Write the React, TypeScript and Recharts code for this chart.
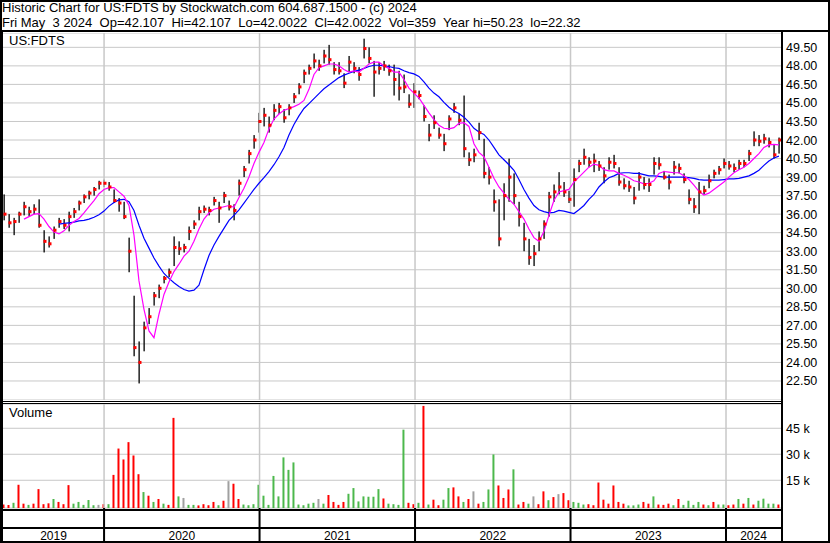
import React from "react";
import {
  ComposedChart,
  Bar,
  Line,
  Scatter,
  XAxis,
  YAxis,
  CartesianGrid,
  ReferenceLine,
  Cell,
} from "recharts";

const FONT = "'Liberation Sans', Arial, sans-serif";
const GRID = "#c8c8c8";

// one bar every ~8 trading days, May 2019 -> May 2024 (decimal years)
const FIRST_DATE = 2019.3564;
const DATE_STEP = 0.032154;
const X_DOMAIN = [2019.35, 2024.3537];

const highs = [
  37.6, 36.0, 35.7, 36.2, 37.0, 36.6, 36.8, 37.2, 34.7, 34.2,
  35.0, 35.7, 35.6, 36.2, 36.5, 37.1, 37.6, 37.9, 38.2, 38.7,
  38.8, 38.6, 38.0, 37.3, 37.0, 34.1, 29.4, 25.7, 27.3, 28.4,
  29.7, 30.3, 31.0, 31.6, 34.2, 33.8, 33.6, 35.0, 35.5, 36.6,
  36.7, 36.6, 37.4, 37.0, 37.8, 37.1, 36.8, 38.8, 39.9, 41.2,
  42.4, 44.2, 44.6, 43.9, 44.9, 45.0, 44.5, 44.9, 45.8, 46.6,
  47.7, 48.1, 49.0, 48.5, 49.3, 49.7, 48.3, 48.3, 47.4, 48.8,
  48.3, 47.9, 50.2, 49.5, 48.4, 48.3, 48.4, 48.1, 48.1, 47.6,
  47.3, 45.7, 46.6, 46.0, 44.8, 43.3, 44.0, 43.0, 42.5, 44.0,
  45.0, 44.1, 45.6, 41.0, 41.3, 43.4, 42.1, 39.8, 38.0, 37.2,
  38.5, 40.5, 39.3, 37.0, 35.3, 34.0, 33.5, 34.6, 35.5, 37.8,
  38.4, 39.4, 38.6, 37.9, 39.7, 40.4, 41.3, 40.6, 40.9, 40.3,
  39.8, 40.6, 40.8, 39.8, 38.9, 38.7, 38.2, 39.4, 39.0, 38.9,
  40.6, 40.6, 39.5, 39.2, 40.3, 40.1, 39.3, 38.0, 37.3, 38.6,
  38.3, 39.2, 39.6, 39.9, 40.5, 40.3, 40.1, 40.4, 40.4, 41.2,
  42.7, 42.4, 42.5, 42.2, 41.6, 42.2,
];

const lows = [
  35.5, 34.9, 34.3, 35.3, 35.9, 35.8, 36.0, 34.9, 32.9, 33.3,
  34.0, 34.9, 34.8, 34.6, 35.7, 36.3, 36.9, 37.2, 37.5, 38.0,
  38.2, 37.9, 36.9, 36.2, 35.6, 31.3, 24.5, 22.3, 24.9, 27.1,
  28.6, 29.2, 30.4, 30.9, 31.8, 32.7, 32.9, 33.9, 34.8, 35.5,
  36.1, 35.9, 36.7, 35.3, 36.9, 36.3, 35.5, 37.5, 39.0, 40.1,
  41.3, 42.6, 43.1, 42.6, 43.6, 44.1, 43.4, 44.0, 45.0, 45.7,
  46.6, 47.3, 47.8, 47.6, 48.2, 48.1, 47.3, 47.3, 46.2, 47.5,
  47.4, 46.8, 48.6, 48.2, 45.5, 47.3, 47.6, 47.2, 45.6, 45.2,
  45.8, 44.6, 44.6, 45.3, 43.5, 41.9, 42.9, 42.1, 41.1, 42.8,
  44.2, 43.2, 40.6, 39.9, 40.2, 42.0, 38.9, 38.4, 36.2, 33.4,
  35.5, 37.0, 36.8, 35.0, 33.0, 31.9, 31.8, 33.0, 34.0, 35.8,
  37.0, 37.6, 37.4, 36.9, 36.6, 39.4, 40.0, 39.8, 39.4, 39.5,
  38.5, 39.6, 39.7, 38.3, 38.0, 37.8, 36.8, 37.9, 38.0, 37.8,
  39.2, 39.6, 38.8, 38.0, 39.2, 39.3, 38.5, 36.8, 36.1, 36.0,
  37.6, 38.1, 38.9, 39.2, 39.7, 39.6, 39.4, 39.6, 39.8, 40.3,
  41.5, 41.5, 41.7, 41.4, 40.5, 40.9,
];

const closes = [
  36.0, 35.3, 35.4, 36.0, 36.6, 36.2, 36.4, 35.1, 33.8, 33.6,
  34.7, 35.4, 35.1, 35.8, 36.2, 36.9, 37.4, 37.7, 38.0, 38.5,
  38.5, 38.2, 37.1, 36.9, 35.8, 33.0, 25.2, 24.0, 26.8, 27.7,
  29.4, 30.0, 30.8, 31.3, 33.3, 33.2, 33.3, 34.6, 35.2, 36.2,
  36.4, 36.3, 37.1, 36.5, 37.5, 36.6, 36.3, 38.5, 39.6, 40.9,
  42.0, 43.5, 44.0, 43.2, 44.4, 44.7, 43.8, 44.6, 45.5, 46.3,
  47.4, 47.8, 48.4, 48.0, 48.8, 48.5, 47.7, 47.6, 46.6, 48.3,
  47.8, 47.3, 49.4, 48.6, 47.5, 47.8, 48.0, 47.6, 46.9, 46.2,
  46.3, 44.9, 45.9, 45.6, 43.9, 42.4, 43.4, 42.4, 41.7, 43.7,
  44.6, 43.6, 41.3, 40.4, 40.8, 42.6, 39.3, 39.0, 37.0, 34.0,
  37.5, 39.0, 37.5, 35.8, 34.0, 32.5, 32.8, 34.0, 35.2, 37.4,
  37.8, 38.2, 37.8, 37.2, 38.8, 40.1, 40.6, 40.2, 40.3, 39.9,
  39.1, 40.2, 40.1, 38.6, 38.3, 38.2, 37.3, 39.0, 38.4, 38.4,
  40.1, 40.0, 39.0, 38.6, 39.8, 39.7, 38.8, 37.2, 36.6, 37.8,
  37.9, 38.7, 39.3, 39.6, 40.1, 39.9, 39.7, 40.1, 40.1, 40.9,
  42.0, 41.9, 42.1, 41.8, 40.8, 42.0,
];

// short moving average (magenta)
const fastMa = [
  null, null, null, null, 35.6, 35.8, 36.0, 36.05, 35.6, 35.0,
  34.55, 34.4, 34.65, 35.1, 35.4, 35.65, 36.1, 36.6, 37.1, 37.65,
  38.0, 38.15, 38.15, 37.8, 37.45, 36.7, 34.3, 30.6, 28.3, 26.55,
  26.0, 27.9, 29.5, 30.5, 31.35, 31.95, 32.6, 33.0, 33.8, 34.8,
  35.6, 36.1, 36.4, 36.5, 36.6, 36.7, 36.55, 37.35, 38.1, 39.0,
  40.1, 41.0, 41.8, 42.9, 43.7, 44.1, 44.4, 44.55, 44.7, 44.9,
  45.2, 46.1, 47.3, 47.85, 48.0, 48.15, 48.15, 48.0, 47.7, 47.5,
  47.6, 47.5, 47.8, 48.15, 48.3, 48.3, 48.0, 47.8, 47.5, 47.5,
  46.9, 46.2, 45.8, 45.4, 44.8, 44.2, 43.65, 43.2, 42.95, 42.9,
  43.0, 43.35, 43.4, 43.1, 41.7, 41.0, 40.65, 39.8, 38.9, 38.2,
  37.7, 37.2, 36.8, 36.2, 35.6, 34.8, 34.1, 33.8, 34.6, 35.9,
  37.1, 37.8, 37.9, 38.0, 38.6, 39.0, 39.4, 39.8, 40.05, 39.95,
  39.6, 39.5, 39.5, 39.3, 39.15, 38.95, 38.7, 38.6, 38.45, 38.5,
  38.7, 39.3, 39.45, 39.4, 39.35, 39.35, 39.1, 38.8, 38.35, 37.85,
  37.55, 37.7, 38.0, 38.3, 38.6, 39.0, 39.35, 39.6, 39.8, 40.1,
  40.5, 40.9, 41.4, 41.6, 41.65, 41.6,
];

// long moving average (blue)
const slowMa = [
  null, null, null, null, null, null, null, null, null, null,
  null, 35.2, 35.25, 35.3, 35.35, 35.45, 35.5, 35.6, 35.75, 35.95,
  36.25, 36.65, 36.95, 37.15, 37.2, 37.0, 36.3, 35.1, 34.05, 33.25,
  32.45, 31.8, 31.2, 30.8, 30.45, 30.15, 29.9, 29.78, 29.85, 30.25,
  31.5, 32.65, 33.5, 34.2, 34.85, 35.5, 35.9, 36.35, 36.9, 37.45,
  38.0, 38.5, 38.95, 39.45, 40.0, 40.65, 41.4, 42.4, 43.25, 43.95,
  44.55, 44.95, 45.35, 45.75, 46.15, 46.45, 46.75, 47.05, 47.25, 47.4,
  47.55, 47.65, 47.8, 47.95, 48.05, 48.05, 48.0, 47.95, 47.85, 47.8,
  47.6, 47.45, 47.35, 47.15, 46.7, 46.2, 45.8, 45.5, 45.05, 44.65,
  44.35, 44.15, 43.85, 43.45, 42.95, 42.65, 42.45, 42.0, 41.4, 40.8,
  40.4, 40.0, 39.55, 38.8, 38.0, 37.3, 36.7, 36.35, 36.2, 36.1,
  36.15, 36.3, 36.25, 36.15, 36.05, 36.35, 36.7, 37.2, 37.6, 38.2,
  38.6, 38.95, 39.1, 39.3, 39.35, 39.35, 39.3, 39.3, 39.2, 39.1,
  39.1, 39.05, 39.0, 39.0, 39.0, 39.0, 39.0, 38.95, 38.9, 38.8,
  38.75, 38.75, 38.75, 38.75, 38.8, 38.85, 38.85, 38.9, 39.0, 39.1,
  39.3, 39.55, 39.95, 40.3, 40.55, 40.7,
];

// volume in thousands of shares, u = up, d = down, n = unchanged
const volumesK = [
  1.0, 0.8, 2.0, 12.4, 1.5, 0.8, 1.5, 9.9, 1.2, 1.7,
  4.2, 2.5, 1.2, 12.2, 1.5, 2.5, 0.8, 3.6, 0.6, 0.8,
  1.2, 1.2, 18.1, 33.3, 27.0, 37.0, 29.3, 18.5, 8.2, 6.1,
  2.5, 4.2, 1.5, 0.8, 51.0, 5.7, 4.8, 0.8, 0.8, 0.5,
  1.2, 0.6, 2.5, 0.6, 3.2, 14.5, 13.0, 4.2, 1.0, 0.6,
  1.2, 12.4, 6.1, 0.8, 17.5, 5.7, 28.2, 21.0, 25.3, 1.0,
  0.6, 1.5, 2.0, 4.2, 1.5, 6.5, 2.5, 0.8, 2.5, 7.2,
  10.5, 2.8, 5.7, 5.5, 5.5, 9.9, 4.5, 1.5, 1.2, 0.8,
  44.2, 2.0, 1.2, 2.0, 57.9, 1.0, 3.8, 0.6, 3.8, 10.5,
  10.9, 5.7, 2.5, 4.2, 8.6, 1.5, 2.5, 9.7, 29.9, 12.0,
  4.8, 9.7, 21.3, 1.0, 2.5, 1.5, 5.7, 1.2, 8.6, 3.5,
  5.3, 7.0, 7.6, 3.5, 2.5, 2.0, 1.0, 1.2, 0.6, 13.7,
  3.8, 1.5, 12.0, 2.5, 1.5, 0.5, 0.5, 1.0, 2.5, 1.5,
  5.7, 1.0, 0.8, 1.5, 0.6, 4.2, 0.8, 3.2, 0.8, 2.5,
  1.0, 0.6, 2.5, 1.0, 1.0, 0.6, 1.0, 4.2, 1.5, 4.8,
  1.0, 3.2, 4.4, 1.5, 1.5, 1.0,
];

const volumeSides =
  "dduddudddd" + "uddduuuuun" + "duddddddud" + "ududdunuud" + "dddudndduu" +
  "uuuuuuuuuu" + "uuunuddddu" + "uuuuuuduuu" + "uddududduu" + "ddudnduuud" +
  "dduddunddu" + "dndduuuddd" + "ddddduuudd" + "uddduduuuu" + "duduuddudu" +
  "duuuud";

const priceTicks = [22.5, 24, 25.5, 27, 28.5, 30, 31.5, 33, 34.5, 36, 37.5, 39, 40.5, 42, 43.5, 45, 46.5, 48, 49.5];
const volumeTicks = [15, 30, 45];
const yearStarts = [2020, 2021, 2022, 2023, 2024];
const yearLabelDates = [2019.675, 2020.5, 2021.5, 2022.5, 2023.5, 2024.177];
const yearLabels = ["2019", "2020", "2021", "2022", "2023", "2024"];

const sideColor: Record<string, string> = { u: "#4cb84c", d: "#ff0000", n: "#a0a0a0" };

const VOLUME_FLOOR = -1;

const data = closes.map((close, i) => ({
  t: FIRST_DATE + i * DATE_STEP,
  range: [lows[i], highs[i]],
  close,
  fast: fastMa[i],
  slow: slowMa[i],
}));

const volumeData = volumesK.map((v, i) => ({
  t: FIRST_DATE + i * DATE_STEP,
  vol: [VOLUME_FLOOR, v],
  side: volumeSides[i],
}));

const HighLow = (props: any) => {
  const { x, y, width, height } = props;
  if (x == null || y == null) return null;
  return <rect x={x + width / 2 - 0.5} y={y} width={1.3} height={Math.max(Math.abs(height), 1)} fill="#000" />;
};

const CloseMark = (props: any) => {
  const { cx, cy } = props;
  if (cx == null || cy == null) return null;
  return <rect x={cx - 0.5} y={cy - 1.5} width={3} height={3} fill="#ff0000" />;
};

const PriceTick = ({ x, y, payload }: any) => (
  <text x={x} y={y} dy={4.5} fontSize={12.5} fontFamily={FONT} fill="#000">
    {Number(payload.value).toFixed(2)}
  </text>
);

const VolumeTick = ({ x, y, payload }: any) => (
  <text x={x} y={y} dy={4.5} fontSize={12.5} fontFamily={FONT} fill="#000">
    {payload.value} k
  </text>
);

const YearTick = ({ x, y, payload }: any) => {
  const i = yearLabelDates.indexOf(payload.value);
  if (i < 0) {
    return <rect x={x - 1} y={y} width={2} height={36} fill="#000" />;
  }
  return (
    <text x={x} y={y + 32} textAnchor="middle" fontSize={12} fontFamily={FONT} fill="#000">
      {yearLabels[i]}
    </text>
  );
};

const Rule = ({ l, t, w, h }: { l: number; t: number; w: number; h: number }) => (
  <div style={{ position: "absolute", left: l, top: t, width: w, height: h, background: "#000" }} />
);

const textStyle: React.CSSProperties = {
  position: "absolute",
  fontFamily: FONT,
  fontSize: 13,
  lineHeight: "15px",
  whiteSpace: "pre",
  color: "#000",
};

export default function App() {
  return (
    <div style={{ position: "absolute", left: 0, top: 0, width: 830, height: 543, background: "#fff", overflow: "hidden" }}>
      <div style={{ ...textStyle, left: 2, top: 0 }}>
        Historic Chart for US:FDTS by Stockwatch.com 604.687.1500 - (c) 2024
      </div>
      <div style={{ ...textStyle, left: 2, top: 15 }}>
        {"Fri May  3 2024  Op=42.107  Hi=42.107  Lo=42.0022  Cl=42.0022  Vol=359  Year hi=50.23  lo=22.32"}
      </div>

      <div style={{ position: "absolute", left: 0, top: 33 }}>
        <ComposedChart width={830} height={367} data={data} margin={{ top: 0, right: 0, bottom: 0, left: 3 }}>
          <CartesianGrid vertical={false} stroke={GRID} strokeWidth={1} />
          {yearStarts.map((y) => (
            <ReferenceLine key={y} x={y} stroke={GRID} strokeWidth={1.5} />
          ))}
          <XAxis type="number" dataKey="t" domain={X_DOMAIN} allowDataOverflow hide />
          <YAxis
            orientation="right"
            width={49}
            domain={[20.96, 50.66]}
            ticks={priceTicks}
            interval={0}
            allowDataOverflow
            axisLine={false}
            tickLine={false}
            tickSize={5}
            tickMargin={0}
            tick={<PriceTick />}
          />
          <Bar dataKey="range" barSize={3} shape={<HighLow />} isAnimationActive={false} />
          <Scatter dataKey="close" shape={<CloseMark />} isAnimationActive={false} />
          <Line dataKey="slow" stroke="#0000ff" strokeWidth={1.2} dot={false} type="linear" isAnimationActive={false} />
          <Line dataKey="fast" stroke="#ff00ff" strokeWidth={1.2} dot={false} type="linear" isAnimationActive={false} />
        </ComposedChart>
      </div>

      <div style={{ position: "absolute", left: 0, top: 404 }}>
        <ComposedChart width={830} height={139} data={volumeData} margin={{ top: 0, right: 0, bottom: 0, left: 3 }}>
          <CartesianGrid vertical={false} stroke={GRID} strokeWidth={1} />
          {yearStarts.map((y) => (
            <ReferenceLine key={y} x={y} stroke={GRID} strokeWidth={1.5} />
          ))}
          <XAxis
            type="number"
            dataKey="t"
            domain={X_DOMAIN}
            allowDataOverflow
            ticks={[...yearLabelDates, ...yearStarts].sort((a, b) => a - b)}
            interval={0}
            height={35}
            axisLine={false}
            tickLine={false}
            tickSize={0}
            tickMargin={0}
            tick={<YearTick />}
          />
          <YAxis
            orientation="right"
            width={49}
            domain={[VOLUME_FLOOR, 59]}
            ticks={volumeTicks}
            interval={0}
            allowDataOverflow
            axisLine={false}
            tickLine={false}
            tickSize={5}
            tickMargin={0}
            tick={<VolumeTick />}
          />
          <Bar dataKey="vol" barSize={2} isAnimationActive={false}>
            {volumeData.map((d, i) => (
              <Cell key={i} fill={sideColor[d.side]} />
            ))}
          </Bar>
        </ComposedChart>
      </div>

      <div style={{ ...textStyle, left: 9, top: 33 }}>US:FDTS</div>
      <div style={{ ...textStyle, left: 9, top: 405 }}>Volume</div>

      {/* frame */}
      <Rule l={0} t={0} w={830} h={2} />
      <Rule l={0} t={30} w={830} h={2} />
      <Rule l={0} t={0} w={2} h={543} />
      <Rule l={0} t={31} w={3} h={512} />
      <Rule l={781} t={31} w={2} h={512} />
      <Rule l={828} t={0} w={2} h={543} />
      <Rule l={0} t={401} w={781} h={1} />
      <Rule l={0} t={403} w={781} h={1} />
      <Rule l={0} t={509} w={781} h={2} />
      <Rule l={0} t={527} w={781} h={2} />
      <Rule l={0} t={541} w={830} h={2} />
    </div>
  );
}
